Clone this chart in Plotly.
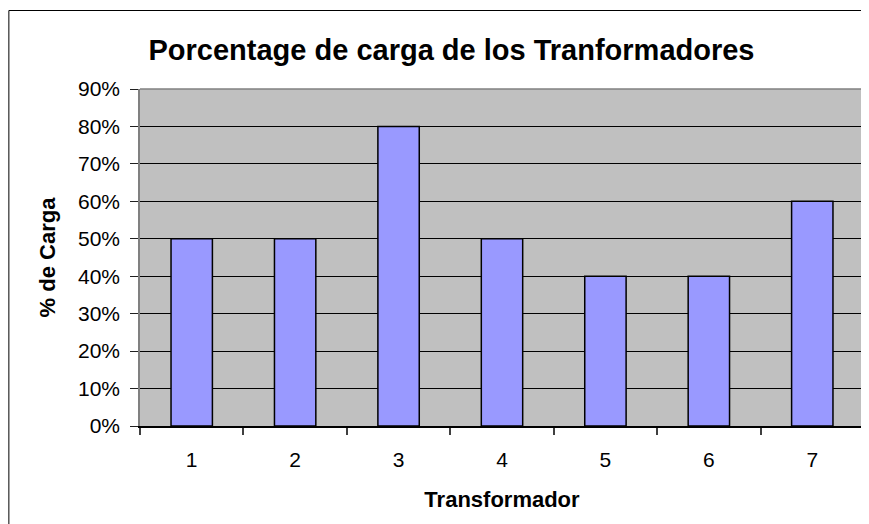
import plotly.graph_objects as go

categories = ["1", "2", "3", "4", "5", "6", "7"]
carga = [0.50, 0.50, 0.80, 0.50, 0.40, 0.40, 0.60]
y_ticks = [0, 0.1, 0.2, 0.3, 0.4, 0.5, 0.6, 0.7, 0.8, 0.9]
y_ticklabels = ["0%", "10%", "20%", "30%", "40%", "50%", "60%", "70%", "80%", "90%"]

FONT = "Liberation Sans, Arial, sans-serif"
OFF = 8  # default page body margin
W, H = 869 - OFF, 524 - OFF
L, R, T = 140 - OFF, 3, 89 - OFF
B = H - (426 - OFF)
pw = W - L - R
ph = H - T - B

fig = go.Figure()
fig.add_trace(go.Bar(
    x=categories, y=carga,
    marker=dict(color="#9999FF", line=dict(color="black", width=1.5)),
    showlegend=False,
))

fig.update_layout(
    width=W, height=H, autosize=False,
    margin=dict(l=L, r=R, t=T, b=B, pad=0),
    paper_bgcolor="white", plot_bgcolor="#C0C0C0",
    bargap=0.6,
    font=dict(family=FONT, color="black"),
    title=dict(text="<b>Porcentage de carga de los Tranformadores</b>",
               font=dict(size=29, family=FONT, color="black"),
               x=(451.5 - OFF) / W, xref="container", xanchor="center",
               y=1 - (50 - OFF) / H, yref="container", yanchor="middle"),
    xaxis=dict(type="category", tickson="boundaries", ticks="outside", ticklen=7,
               tickcolor="#404040", tickwidth=1.5,
               showline=True, linecolor="black", linewidth=1.5, mirror=False,
               showgrid=False, tickfont=dict(size=21, family=FONT),
               ticklabelstandoff=14,
               title=dict(text="<b>Transformador</b>", font=dict(size=22, family=FONT),
                          standoff=22)),
    yaxis=dict(range=[0, 0.9], tickvals=y_ticks, ticktext=y_ticklabels,
               ticks="outside", ticklen=8, tickcolor="#202020", tickwidth=1,
               showline=True, linecolor="#808080", linewidth=1.5, mirror=True,
               showgrid=True, gridcolor="black", gridwidth=1, zeroline=False,
               tickfont=dict(size=21, family=FONT), ticklabelstandoff=6,
               title=dict(text="<b>% de Carga</b>", font=dict(size=22, family=FONT),
                          standoff=16)),
    shapes=[
        dict(type="line", xref="paper", yref="paper", x0=0, x1=1, y0=1, y1=1,
             line=dict(color="#808080", width=1.5), layer="above"),
        dict(type="rect", xref="paper", yref="paper",
             x0=(0.5 - L) / pw, x1=1.2, y0=-0.6, y1=(H - B - 2.5) / ph,
             line=dict(color="black", width=1), layer="above"),
    ],
)

fig.write_html("out.html")
